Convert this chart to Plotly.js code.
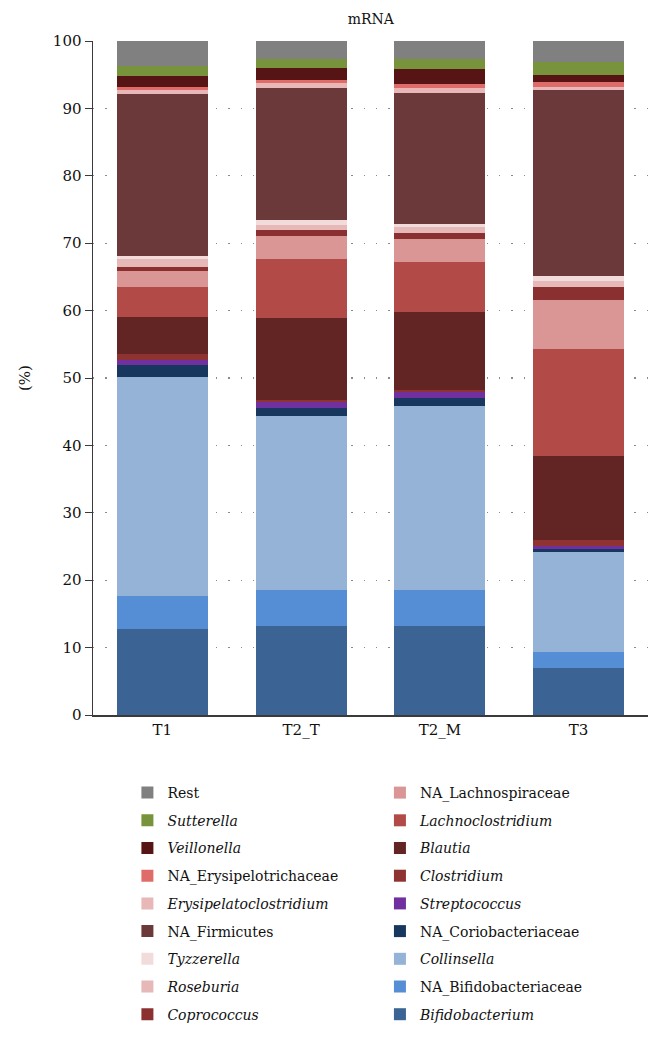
<!DOCTYPE html>
<html><head><meta charset="utf-8">
<script src="https://cdn.plot.ly/plotly-3.0.1.min.js"></script>
<style>body{margin:0;background:#fff}</style></head>
<body><div id="chart" style="width:661px;height:1047px"></div>
<script>
const samples = ["T1", "T2_T", "T2_M", "T3"];

// values in %, bottom of stack first
const bifidobacterium      = [12.8, 13.2, 13.2, 6.9];
const naBifidobacteriaceae = [4.9, 5.4, 5.4, 2.5];
const collinsella          = [32.4, 25.7, 27.2, 14.8];
const naCoriobacteriaceae  = [1.9, 1.3, 1.2, 0.5];
const streptococcus        = [0.7, 0.8, 0.9, 0.4];
const clostridium          = [0.8, 0.4, 0.3, 0.9];
const blautia              = [5.55, 12.1, 11.55, 12.5];
const lachnoclostridium    = [4.45, 8.76, 7.4, 15.8];
const naLachnospiraceae    = [2.4, 3.44, 3.45, 7.2];
const coprococcus          = [0.6, 0.8, 0.9, 2.0];
const roseburia            = [1.2, 0.8, 0.9, 0.9];
const tyzzerella           = [0.4, 0.8, 0.45, 0.8];
const naFirmicutes         = [24.0, 19.6, 19.45, 27.6];
const erysipelatoclostridium = [0.6, 0.6, 0.8, 0.4];
const naErysipelotrichaceae  = [0.5, 0.5, 0.5, 0.7];
const veillonella          = [1.6, 1.8, 2.3, 1.1];
const sutterella           = [1.5, 1.3, 1.5, 1.9];
const rest                 = [3.7, 2.7, 2.6, 3.1];

const series = [
  {name: "<i>Bifidobacterium</i>", y: bifidobacterium, color: "#3b6393", legend: "legend2"},
  {name: "NA_Bifidobacteriaceae", y: naBifidobacteriaceae, color: "#558ed5", legend: "legend2"},
  {name: "<i>Collinsella</i>", y: collinsella, color: "#95b3d7", legend: "legend2"},
  {name: "NA_Coriobacteriaceae", y: naCoriobacteriaceae, color: "#17375e", legend: "legend2"},
  {name: "<i>Streptococcus</i>", y: streptococcus, color: "#7030a0", legend: "legend2"},
  {name: "<i>Clostridium</i>", y: clostridium, color: "#8e3232", legend: "legend2"},
  {name: "<i>Blautia</i>", y: blautia, color: "#632523", legend: "legend2"},
  {name: "<i>Lachnoclostridium</i>", y: lachnoclostridium, color: "#b24a48", legend: "legend2"},
  {name: "NA_Lachnospiraceae", y: naLachnospiraceae, color: "#d99694", legend: "legend2"},
  {name: "<i>Coprococcus</i>", y: coprococcus, color: "#8b3030", legend: "legend"},
  {name: "<i>Roseburia</i>", y: roseburia, color: "#e6b9b8", legend: "legend"},
  {name: "<i>Tyzzerella</i>", y: tyzzerella, color: "#f2dcdb", legend: "legend"},
  {name: "NA_Firmicutes", y: naFirmicutes, color: "#6b3939", legend: "legend"},
  {name: "<i>Erysipelatoclostridium</i>", y: erysipelatoclostridium, color: "#e8b8b8", legend: "legend"},
  {name: "NA_Erysipelotrichaceae", y: naErysipelotrichaceae, color: "#e06c6a", legend: "legend"},
  {name: "<i>Veillonella</i>", y: veillonella, color: "#561414", legend: "legend"},
  {name: "<i>Sutterella</i>", y: sutterella, color: "#77933c", legend: "legend"},
  {name: "Rest", y: rest, color: "#808080", legend: "legend"}
];

const traces = series.map((s, i) => ({
  type: "bar",
  x: samples,
  y: s.y,
  name: s.name,
  legend: s.legend,
  legendgroup: "g" + i,
  legendrank: 100 - i,
  marker: {color: s.color, line: {width: 0}},
  hoverinfo: "name+y"
}));

const serif = "DejaVu Serif, serif";
const legendCommon = {
  orientation: "v",
  traceorder: "grouped",
  tracegroupgap: 6.5,
  yanchor: "top",
  xanchor: "left",
  bgcolor: "rgba(0,0,0,0)",
  font: {family: serif, size: 14, color: "#111"},
  itemwidth: 30
};

const layout = {
  width: 661, height: 1047,
  margin: {l: 93, r: 13, t: 41, b: 332},
  barmode: "stack",
  bargap: 0.344,
  paper_bgcolor: "#fff",
  plot_bgcolor: "#fff",
  title: {text: "mRNA", font: {family: serif, size: 14, color: "#111"}, x: 0.561, xanchor: "center", y: 0.982, yanchor: "middle"},
  font: {family: serif, color: "#111"},
  xaxis: {
    showline: true, linecolor: "#3a3a3a", linewidth: 1.5,
    ticks: "", showgrid: false,
    tickfont: {family: serif, size: 15, color: "#111"},
    fixedrange: true
  },
  yaxis: {
    range: [0, 100], dtick: 10,
    showline: true, linecolor: "#3a3a3a", linewidth: 1.5,
    ticks: "outside", ticklen: 7, tickcolor: "#3a3a3a", tickwidth: 1,
    showgrid: true, gridcolor: "#8a8a8a", gridwidth: 1.3, griddash: "1.3px,11px",
    zeroline: false,
    tickfont: {family: serif, size: 15, color: "#111"},
    title: {text: "(%)", font: {family: serif, size: 15, color: "#111"}, standoff: 18},
    fixedrange: true
  },
  legend: Object.assign({}, legendCommon, {x: 0.062, y: -0.092}),
  legend2: Object.assign({}, legendCommon, {x: 0.517, y: -0.092}),
  showlegend: true
};

Plotly.newPlot("chart", traces, layout, {displayModeBar: false, staticPlot: true});
</script>
</body></html>
